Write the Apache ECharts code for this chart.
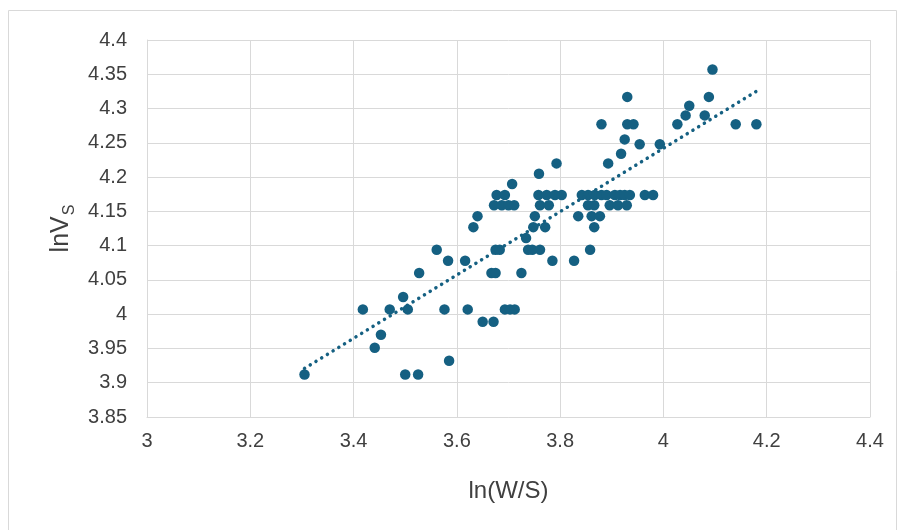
<!DOCTYPE html>
<html>
<head>
<meta charset="utf-8">
<script src="https://cdn.jsdelivr.net/npm/echarts@6/dist/echarts.min.js"></script>
<style>
  html, body { margin: 0; padding: 0; background: #fff; }
  #main { width: 902px; height: 530px; }
</style>
</head>
<body>
<div id="main"></div>
<script type="text/javascript">
// ln(W/S) values
var lnWS = [
    3.305, 3.500, 3.525,
    3.585,
    3.441,
    3.453,
    3.650, 3.671,
    3.418, 3.470, 3.505, 3.576, 3.621, 3.693, 3.703, 3.712,
    3.496,
    3.527, 3.667, 3.675, 3.725,
    3.583, 3.616, 3.785, 3.827,
    3.561, 3.675, 3.683, 3.738, 3.746, 3.761, 3.858,
    3.734,
    3.632, 3.748, 3.771, 3.866,
    3.640, 3.751, 3.835, 3.861, 3.877,
    3.672, 3.687, 3.700, 3.711, 3.761, 3.778, 3.854, 3.866, 3.896, 3.912, 3.929,
    3.677, 3.693, 3.758, 3.774, 3.790, 3.803, 3.842, 3.854, 3.867, 3.880, 3.890, 3.906, 3.916, 3.925, 3.935, 3.964, 3.980,
    3.707,
    3.759,
    3.793, 3.893,
    3.918,
    3.925,
    3.954, 3.993,
    3.880, 3.930, 3.942, 4.027, 4.140, 4.180,
    4.043, 4.080,
    4.050,
    3.930, 4.088,
    4.095
];
// lnVs values, same order
var lnVs = [
    3.912, 3.912, 3.912,
    3.932,
    3.951,
    3.970,
    3.989, 3.989,
    4.007, 4.007, 4.007, 4.007, 4.007, 4.007, 4.007, 4.007,
    4.025,
    4.060, 4.060, 4.060, 4.060,
    4.078, 4.078, 4.078, 4.078,
    4.094, 4.094, 4.094, 4.094, 4.094, 4.094, 4.094,
    4.111,
    4.127, 4.127, 4.127, 4.127,
    4.143, 4.143, 4.143, 4.143, 4.143,
    4.159, 4.159, 4.159, 4.159, 4.159, 4.159, 4.159, 4.159, 4.159, 4.159, 4.159,
    4.174, 4.174, 4.174, 4.174, 4.174, 4.174, 4.174, 4.174, 4.174, 4.174, 4.174, 4.174, 4.174, 4.174, 4.174, 4.174, 4.174,
    4.190,
    4.205,
    4.220, 4.220,
    4.234,
    4.255,
    4.248, 4.248,
    4.277, 4.277, 4.277, 4.277, 4.277, 4.277,
    4.290, 4.290,
    4.304,
    4.317, 4.317,
    4.357
];
// linear trendline: lnVs = slope * ln(W/S) + intercept
var trendSlope = 0.462;
var trendIntercept = 2.394;

var points = lnWS.map(function (x, i) { return [x, lnVs[i]]; });
var xMin = Math.min.apply(null, lnWS), xMax = Math.max.apply(null, lnWS);
var trend = [xMin, xMax].map(function (x) { return [x, trendIntercept + trendSlope * x]; });

var FONT = "'Liberation Sans', sans-serif";
var chart = echarts.init(document.getElementById('main'));
var option = {
    animation: false,
    graphic: [{
        type: 'rect',
        shape: { x: 8.5, y: 10.5, width: 888, height: 530 },
        style: { fill: 'none', stroke: '#d9d9d9', lineWidth: 1 },
        silent: true
    }],
    grid: { left: 147, right: 32, top: 40, bottom: 113 },
    xAxis: {
        type: 'value',
        min: 3, max: 4.4, interval: 0.2,
        name: 'ln(W/S)',
        nameLocation: 'middle',
        nameGap: 62,
        nameTextStyle: { fontFamily: FONT, fontSize: 24, color: '#404040' },
        axisLine: { lineStyle: { color: '#d9d9d9', width: 1 } },
        axisTick: { show: false },
        axisLabel: { fontFamily: FONT, fontSize: 20, color: '#404040', margin: 14,
            formatter: function (v) { return String(+v.toFixed(2)); } },
        splitLine: { lineStyle: { color: '#d9d9d9', width: 1 } }
    },
    yAxis: {
        type: 'value',
        min: 3.85, max: 4.4, interval: 0.05,
        name: '{a|lnV}{b|S}',
        nameLocation: 'middle',
        nameRotate: 90,
        nameGap: 70,
        nameTextStyle: {
            color: '#404040',
            rich: {
                a: { fontFamily: FONT, fontSize: 25, color: '#404040', lineHeight: 30 },
                b: { fontFamily: FONT, fontSize: 16, color: '#404040', lineHeight: 30, padding: [16, 0, 0, 1] }
            }
        },
        axisLine: { show: true, lineStyle: { color: '#d9d9d9', width: 1 } },
        axisTick: { show: false },
        axisLabel: { fontFamily: FONT, fontSize: 20, color: '#404040', margin: 20,
            formatter: function (v) { return String(+v.toFixed(2)); } },
        splitLine: { lineStyle: { color: '#d9d9d9', width: 1 } }
    },
    series: [
        {
            type: 'scatter',
            data: points,
            symbolSize: 10.5,
            itemStyle: { color: '#156082', opacity: 1 }
        },
        {
            type: 'line',
            data: trend,
            symbol: 'none',
            lineStyle: { color: '#156082', width: 3.5, type: [0.1, 6.6], cap: 'round' }
        }
    ]
};
chart.setOption(option);
</script>
</body>
</html>
